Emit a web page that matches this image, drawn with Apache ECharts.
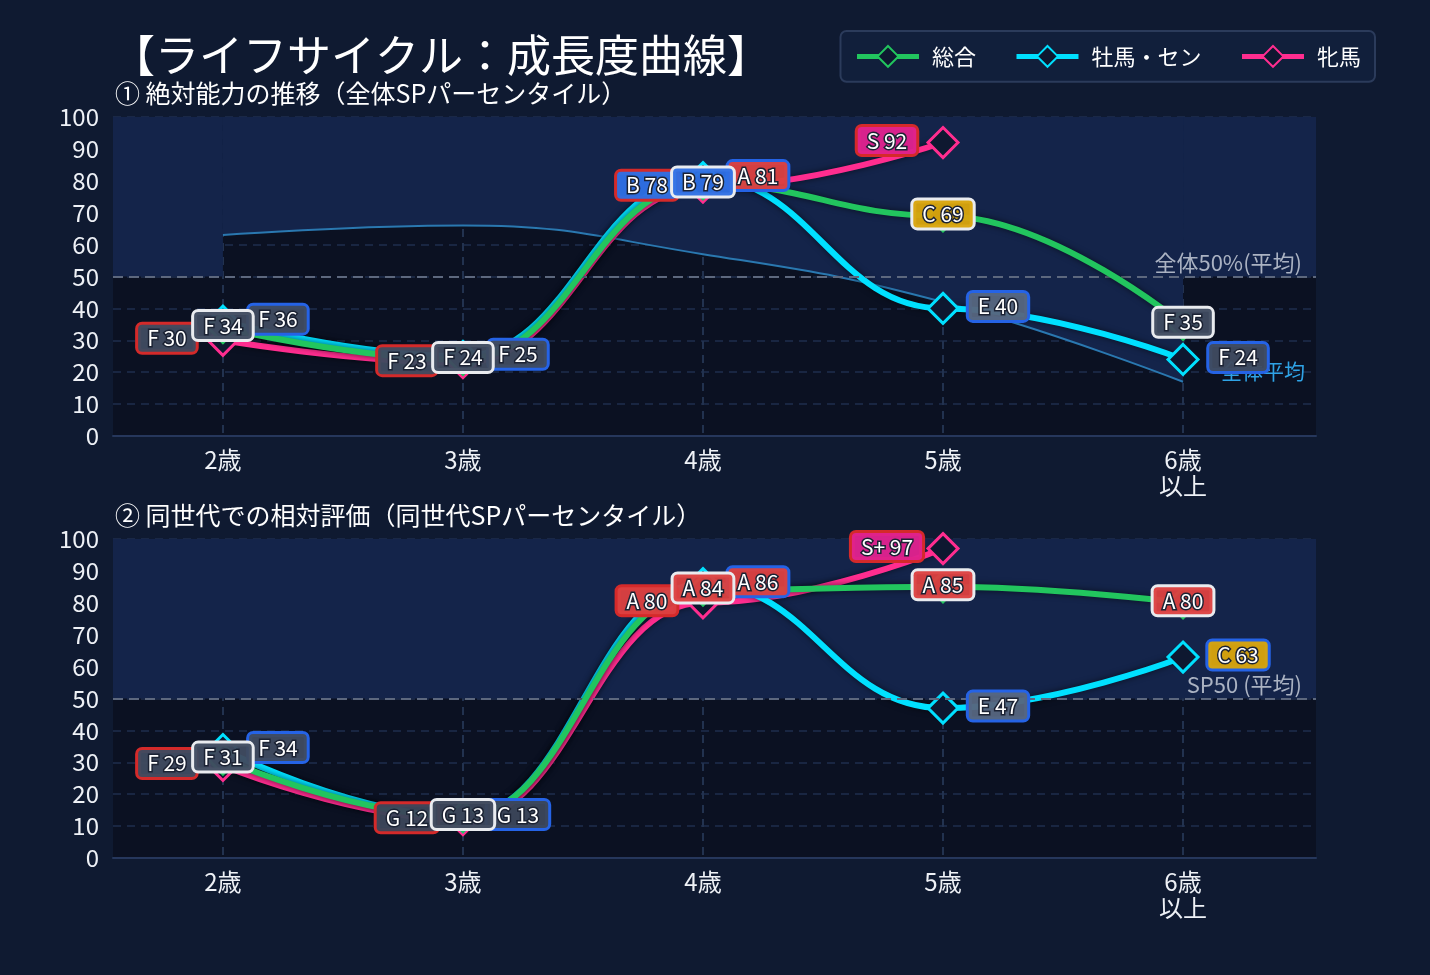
<!DOCTYPE html>
<html>
<head>
<meta charset="utf-8">
<script src="https://cdn.jsdelivr.net/npm/echarts@6/dist/echarts.min.js"></script>
<style>
  html, body { margin: 0; padding: 0; background: #0f1a31; }
  #chart { width: 1430px; height: 975px; }
</style>
</head>
<body>
<div id="chart"></div>
<script>
// 年齢カテゴリ
const categories = ['2歳', '3歳', '4歳', '5歳', '6歳\n以上']

// ① 絶対能力（全体SPパーセンタイル）
const absTotal = [34, 24, 79, 69, 35]
const absMale = [36, 25, 81, 40, 24]
const absFemale = [30, 23, 78, 92, null]
const absTotalGrade = ['F', 'F', 'B', 'C', 'F']
const absMaleGrade = ['F', 'F', 'A', 'E', 'F']
const absFemaleGrade = ['F', 'F', 'B', 'S', null]
const absAverage = [63, 66, 57, 42, 17]

// ② 同世代での相対評価
const relTotal = [31, 13, 84, 85, 80]
const relMale = [34, 13, 86, 47, 63]
const relFemale = [29, 12, 80, 97, null]
const relTotalGrade = ['F', 'G', 'A', 'A', 'A']
const relMaleGrade = ['F', 'G', 'A', 'E', 'C']
const relFemaleGrade = ['F', 'G', 'A', 'S+', null]

const avgLine = 50

const FONT = '"Noto Sans CJK JP", "Noto Sans", sans-serif'
const X_MIN = -0.458
const X_MAX = 4.554
const BG_DARK = '#0b1122'
const BG_LIGHT = '#14244a'

const gradeFill = {
  'F': 'rgba(63,75,96,0.96)',
  'G': 'rgba(59,70,89,0.96)',
  'E': 'rgba(86,102,127,0.96)',
  'C': 'rgba(216,164,12,0.96)',
  'B': 'rgba(47,111,228,0.96)',
  'A': 'rgba(220,65,65,0.96)',
  'S': 'rgba(224,34,143,0.96)',
  'S+': 'rgba(224,34,143,0.96)',
}

const seriesStyle = {
  total: { name: '総合', color: '#22c55e', border: '#e9ebef', offset: 0, z: 5 },
  male: { name: '牡馬・セン', color: '#00e0ff', border: '#2563e6', offset: 55, z: 4 },
  female: { name: '牝馬', color: '#ff2d8f', border: '#d42a2a', offset: -56, z: 3 },
}

function pointsOf(values, grades) {
  const data = []
  values.forEach((v, i) => {
    if (v == null) return
    data.push({
      value: [i, v],
      grade: grades[i],
      label: { backgroundColor: gradeFill[grades[i]] },
    })
  })
  return data
}

function makeLine(key, idx, values, grades) {
  const s = seriesStyle[key]
  return {
    name: s.name,
    type: 'line',
    xAxisIndex: idx,
    yAxisIndex: idx,
    z: s.z,
    smooth: 0.45,
    smoothMonotone: 'x',
    data: pointsOf(values, grades),
    symbol: 'diamond',
    symbolSize: 30,
    lineStyle: {
      color: s.color,
      width: 6,
      shadowColor: 'rgba(0,0,0,0.6)',
      shadowBlur: 6,
    },
    itemStyle: {
      color: '#0e1830',
      borderColor: s.color,
      borderWidth: 3,
    },
    label: { show: false },
    emphasis: { disabled: true },
  }
}

// 値ラベル（線より前面に描く）
function makeLabels(key, idx, values, grades) {
  const s = seriesStyle[key]
  return {
    type: 'scatter',
    xAxisIndex: idx,
    yAxisIndex: idx,
    z: 10 + s.z,
    silent: true,
    symbolSize: 1,
    itemStyle: { color: 'rgba(0,0,0,0)', opacity: 1 },
    data: pointsOf(values, grades),
    label: {
      show: true,
      position: 'inside',
      offset: [s.offset, -2],
      formatter: p => p.data.grade + ' ' + p.data.value[1],
      color: '#ffffff',
      fontSize: 21,
      lineHeight: 22,
      fontFamily: FONT,
      textBorderColor: '#1b2233',
      textBorderWidth: 3,
      padding: [3, 9, 2, 9],
      borderColor: s.border,
      borderWidth: 3,
      borderRadius: 4,
    },
    emphasis: { disabled: true },
  }
}

function xAxisFor(idx) {
  return {
    type: 'value',
    gridIndex: idx,
    min: X_MIN,
    max: X_MAX,
    axisLine: { show: true, lineStyle: { color: '#26375c', width: 2 } },
    axisTick: { show: false, customValues: [0, 1, 2, 3, 4] },
    axisLabel: {
      customValues: [0, 1, 2, 3, 4],
      formatter: v => categories[Math.round(v)],
      color: '#eef1f6',
      fontSize: 24,
      lineHeight: 26,
      margin: 11,
      fontFamily: FONT,
    },
    splitLine: {
      show: true,
      lineStyle: { color: '#22324f', type: [8, 6], width: 2 },
    },
  }
}

function yAxisFor(idx) {
  return {
    type: 'value',
    gridIndex: idx,
    min: 0,
    max: 100,
    interval: 10,
    axisLine: { show: false },
    axisTick: { show: false },
    axisLabel: { color: '#eef1f6', fontSize: 24, margin: 14, fontFamily: FONT },
    splitLine: { lineStyle: { color: '#1f2e4d', type: [8, 6], width: 1.5 } },
  }
}

function refLine(text) {
  return {
    silent: true,
    symbol: 'none',
    lineStyle: { color: '#5d687e', type: [10, 6], width: 2 },
    label: {
      show: true,
      position: 'insideEndTop',
      formatter: text,
      color: '#aab2c2',
      fontSize: 22,
      fontFamily: FONT,
      distance: [14, 3],
    },
    data: [{ yAxis: avgLine }],
  }
}

const avgData = absAverage.map((v, i) => [i, v])

const option = {
  backgroundColor: '#0f1a31',
  animation: false,
  title: [
    {
      text: '【ライフサイクル：成長度曲線】',
      left: 106,
      top: 28,
      textStyle: { color: '#ffffff', fontSize: 44, fontWeight: 'normal', fontFamily: FONT },
    },
    {
      text: '① 絶対能力の推移（全体SPパーセンタイル）',
      left: 110,
      top: 76,
      textStyle: { color: '#ffffff', fontSize: 25, fontWeight: 'normal', fontFamily: FONT },
    },
    {
      text: '② 同世代での相対評価（同世代SPパーセンタイル）',
      left: 110,
      top: 498,
      textStyle: { color: '#ffffff', fontSize: 25, fontWeight: 'normal', fontFamily: FONT },
    },
  ],
  legend: {
    data: ['総合', '牡馬・セン', '牝馬'],
    right: 55,
    top: 31,
    padding: [14, 14],
    itemGap: 38,
    itemWidth: 62,
    itemHeight: 26,
    lineStyle: { width: 5 },
    backgroundColor: '#111f3b',
    borderColor: '#2b3b5b',
    borderWidth: 2,
    borderRadius: 6,
    textStyle: { color: '#ffffff', fontSize: 22, fontFamily: FONT, padding: [0, 0, 0, 8] },
  },
  grid: [
    { left: 113, right: 114, top: 117, height: 319, show: true, backgroundColor: BG_DARK, borderWidth: 0 },
    { left: 113, right: 114, top: 539, height: 319, show: true, backgroundColor: BG_DARK, borderWidth: 0 },
  ],
  xAxis: [xAxisFor(0), xAxisFor(1)],
  yAxis: [yAxisFor(0), yAxisFor(1)],
  series: [
    // 上段: 背景と全体平均
    {
      type: 'line',
      xAxisIndex: 0,
      yAxisIndex: 0,
      z: 1,
      data: [],
      markArea: {
        silent: true,
        itemStyle: { color: BG_LIGHT },
        data: [
          [{ xAxis: X_MIN, yAxis: 50 }, { xAxis: 0, yAxis: 100 }],
          [{ xAxis: 4, yAxis: 50 }, { xAxis: X_MAX, yAxis: 100 }],
        ],
      },
    },
    {
      name: '全体平均',
      type: 'line',
      xAxisIndex: 0,
      yAxisIndex: 0,
      z: 2,
      smooth: 0.45,
      data: avgData,
      symbol: 'none',
      lineStyle: { color: '#2a78b0', width: 2 },
      areaStyle: { origin: 'end', color: BG_LIGHT, opacity: 1 },
      endLabel: {
        show: true,
        formatter: '全体平均',
        color: '#2fa3e6',
        fontSize: 21,
        fontFamily: FONT,
        offset: [30, -11],
      },
      markLine: refLine('全体50%(平均)'),
      emphasis: { disabled: true },
      silent: true,
    },
    makeLine('female', 0, absFemale, absFemaleGrade),
    makeLine('male', 0, absMale, absMaleGrade),
    makeLine('total', 0, absTotal, absTotalGrade),
    makeLabels('female', 0, absFemale, absFemaleGrade),
    makeLabels('male', 0, absMale, absMaleGrade),
    makeLabels('total', 0, absTotal, absTotalGrade),

    // 下段
    {
      type: 'line',
      xAxisIndex: 1,
      yAxisIndex: 1,
      z: 1,
      data: [],
      markArea: {
        silent: true,
        itemStyle: { color: BG_LIGHT },
        data: [[{ yAxis: 50 }, { yAxis: 100 }]],
      },
      markLine: refLine('SP50 (平均)'),
    },
    makeLine('female', 1, relFemale, relFemaleGrade),
    makeLine('male', 1, relMale, relMaleGrade),
    makeLine('total', 1, relTotal, relTotalGrade),
    makeLabels('female', 1, relFemale, relFemaleGrade),
    makeLabels('male', 1, relMale, relMaleGrade),
    makeLabels('total', 1, relTotal, relTotalGrade),
  ],
}

const chart = echarts.init(document.getElementById('chart'))
chart.setOption(option)
</script>
</body>
</html>
